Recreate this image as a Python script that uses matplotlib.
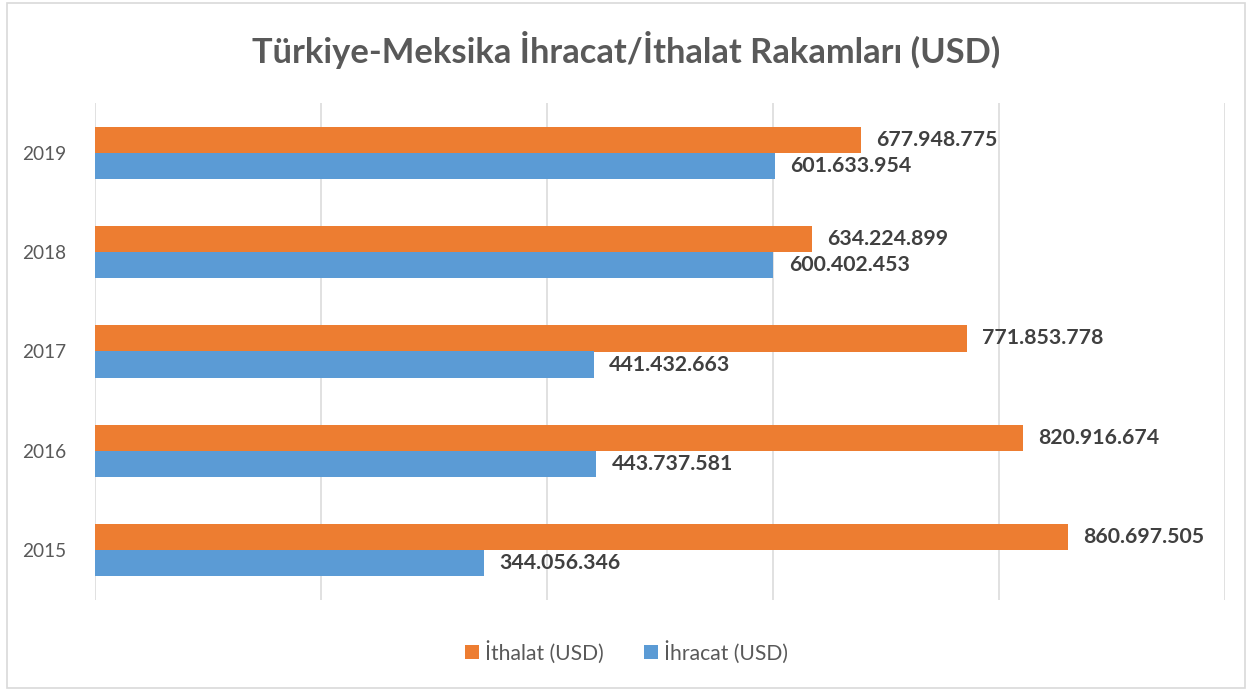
import matplotlib
matplotlib.use("Agg")
import matplotlib.pyplot as plt
from matplotlib.patches import Rectangle

years = ["2015", "2016", "2017", "2018", "2019"]
ithalat = [860697505, 820916674, 771853778, 634224899, 677948775]
ihracat = [344056346, 443737581, 441432663, 600402453, 601633954]
series_names = ["İthalat (USD)", "İhracat (USD)"]
title = "Türkiye-Meksika İhracat/İthalat Rakamları (USD)"

def fmt(v):
    return f"{v:,}".replace(",", ".")

plt.rcParams['font.family'] = ['Lato', 'DejaVu Sans']
W, H = 1253, 691
fig = plt.figure(figsize=(W/100, H/100), dpi=100)
fig.patches.append(Rectangle((7/W, 3/H), 1238/W, 685/H, transform=fig.transFigure,
                             fill=False, edgecolor='#d9d9d9', linewidth=1.2))

ax = fig.add_axes([95/W, (691-600)/H, (1225-95)/W, (600-103)/H])
h = 0.262
y = list(range(len(years)))
orange = '#ED7D31'
blue = '#5B9BD5'
ax.barh([i + h/2 for i in y], ithalat, height=h, color=orange, label=series_names[0], zorder=3)
ax.barh([i - h/2 for i in y], ihracat, height=h, color=blue, label=series_names[1], zorder=3)

for i in y:
    ax.annotate(fmt(ithalat[i]), (ithalat[i], i + h/2), xytext=(11, 0), textcoords='offset points',
                va='center', ha='left', fontsize=15.3, fontweight='bold', color='#404040')
    ax.annotate(fmt(ihracat[i]), (ihracat[i], i - h/2), xytext=(11, 0), textcoords='offset points',
                va='center', ha='left', fontsize=15.3, fontweight='bold', color='#404040')

ax.set_xlim(0, 1000000000)
ax.set_ylim(-0.5, 4.5)
ax.set_xticks([0, 200e6, 400e6, 600e6, 800e6, 1000e6])
ax.set_xticklabels([])
ax.tick_params(axis='x', length=0)
ax.set_yticks(y)
ax.set_yticklabels(years, fontsize=13.7, color='#595959')
ax.tick_params(axis='y', length=0, pad=21)
ax.grid(axis='x', color='#d9d9d9', linewidth=1.1, zorder=0)
for s in ax.spines.values():
    s.set_visible(False)

fig.text(0.5, (691-50)/H, title, ha='center', va='center', fontsize=24.8, fontweight='bold', color='#595959')

fig.legend(loc='center', bbox_to_anchor=(0.5, (691-652)/H), ncol=2, frameon=False,
           fontsize=15.2, labelcolor='#595959', handlelength=0.65, handleheight=0.65,
           handletextpad=0.3, columnspacing=1.9)

fig.savefig("out.png", dpi=100)
